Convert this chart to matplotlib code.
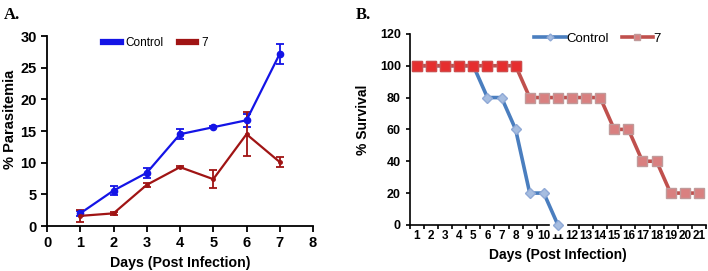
import matplotlib
matplotlib.use("Agg")
import matplotlib.pyplot as plt
import numpy as np

# Panel A: parasitemia
days_a = [1, 2, 3, 4, 5, 6, 7]
control_para = [2.0, 5.6, 8.4, 14.5, 15.6, 16.7, 27.2]
control_err = [0.4, 0.7, 0.8, 0.8, 0.2, 1.0, 1.6]
cmpd_para = [1.6, 2.0, 6.5, 9.3, 7.4, 14.5, 10.1]
cmpd_err = [1.0, 0.2, 0.3, 0.1, 1.4, 3.5, 0.8]

# Panel B: survival
days_b = list(range(1, 22))
control_days = list(range(1, 12))
control_surv = [100, 100, 100, 100, 100, 80, 80, 60, 20, 20, 0]
cmpd_surv = [100, 100, 100, 100, 100, 100, 100, 100, 80, 80, 80, 80, 80, 80,
             60, 60, 40, 40, 20, 20, 20]

plt.rcParams["font.family"] = ["Liberation Sans", "DejaVu Sans"]

fig = plt.figure(figsize=(7.08, 2.71), dpi=100)

# ---- A ----
ax1 = fig.add_axes([0.0664, 0.166, 0.3757, 0.701])
blue = "#1414e6"
red = "#a01414"
ax1.errorbar(days_a, control_para, yerr=control_err, color=blue, lw=1.6,
             marker="o", ms=4.5, capsize=3, elinewidth=1.3, capthick=1.3,
             label="Control")
ax1.errorbar(days_a, cmpd_para, yerr=cmpd_err, color=red, lw=1.6,
             marker="o", ms=2.5, capsize=3, elinewidth=1.3, capthick=1.3,
             label="7")
ax1.set_xlim(0, 8)
ax1.set_ylim(0, 30)
ax1.set_xticks(range(0, 9))
ax1.set_yticks(range(0, 31, 5))
ax1.spines[["top", "right"]].set_visible(False)
ax1.spines[["left", "bottom"]].set_linewidth(1.3)
ax1.tick_params(width=1.3, length=4, labelsize=10.5)
for t in ax1.get_xticklabels() + ax1.get_yticklabels():
    t.set_fontweight("bold")
ax1.set_xlabel("Days (Post Infection)", fontsize=10.2, fontweight="bold")
ax1.set_ylabel("% Parasitemia", fontsize=10.5, fontweight="bold")
ax1.yaxis.set_label_coords(-0.113, 0.56)
h1 = [plt.Line2D([], [], color=blue, lw=4.5),
      plt.Line2D([], [], color=red, lw=4.5)]
ax1.legend(h1, ["Control", "7"], loc="upper left", bbox_to_anchor=(0.17, 1.05),
           ncol=2, frameon=False, fontsize=8.5, handlelength=1.5,
           columnspacing=1.3, handletextpad=0.4)
fig.text(0.005, 0.93, "A.", fontsize=12, fontweight="bold",
         family="Liberation Serif")

# ---- B ----
ax2 = fig.add_axes([0.579, 0.170, 0.418, 0.705])
cblue = "#4a7ebf"
cred = "#c0504d"
ax2.plot(11, 0, marker="s", ms=11, color="white", clip_on=False, zorder=5)
ax2.plot(control_days, control_surv, color=cblue, lw=2.6, marker="D", ms=5,
         mfc="#a6bde0", mec="#8fa9d6", clip_on=False, zorder=6, label="Control")
ax2.plot(days_b, cmpd_surv, color=cred, lw=2.6, marker="s", ms=6.5,
         mfc="#d98080", mec="#c09a9a", clip_on=False, zorder=7,
         label="7")
# brighter markers along the top row
ax2.plot(days_b[:8], cmpd_surv[:8], ls="none", marker="s", ms=6.5,
         mfc="#e62e2e", mec="#d04a4a", clip_on=False, zorder=8)
ax2.set_xlim(0.5, 21.5)
ax2.set_ylim(0, 120)
ax2.set_xticks(days_b)
ax2.set_yticks(range(0, 121, 20))
ax2.spines[["top", "right"]].set_visible(False)
ax2.spines[["left", "bottom"]].set_linewidth(1.2)
ax2.tick_params(axis="y", width=1.2, length=3, labelsize=9)
ax2.tick_params(axis="x", width=1.2, length=3, labelsize=8.5, pad=4)
ax2.set_xticks(np.arange(0.5, 22, 1), minor=True)
ax2.tick_params(axis="x", which="major", length=0)
ax2.tick_params(axis="x", which="minor", width=1.2, length=3)
for t in ax2.get_xticklabels() + ax2.get_yticklabels():
    t.set_fontweight("bold")
ax2.set_xlabel("Days (Post Infection)", fontsize=10, fontweight="bold")
ax2.set_ylabel("% Survival", fontsize=10, fontweight="bold")
ax2.yaxis.set_label_coords(-0.135, 0.55)
ax2.legend(loc="upper left", bbox_to_anchor=(0.38, 1.07), ncol=2,
           frameon=False, fontsize=9.5, handlelength=2.4, columnspacing=1.0,
           handletextpad=0.0, markerscale=0.7)
fig.text(0.503, 0.93, "B.", fontsize=12, fontweight="bold",
         family="Liberation Serif")

fig.savefig("out.png", dpi=100)
